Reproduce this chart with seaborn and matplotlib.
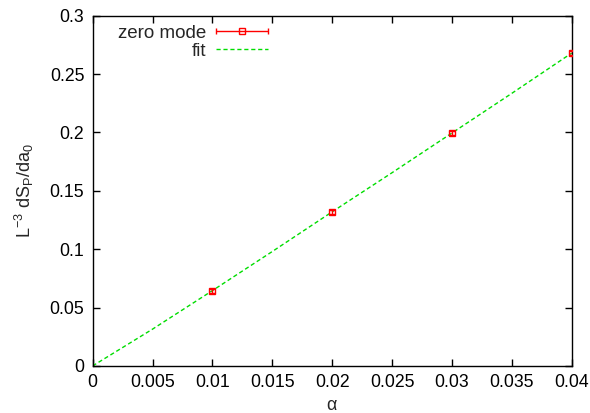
import numpy as np
import pandas as pd
import matplotlib
matplotlib.use('Agg')
import matplotlib.pyplot as plt
import seaborn as sns
from matplotlib.ticker import FormatStrFormatter
from matplotlib.legend_handler import HandlerErrorbar

# data
alpha = [0.01, 0.02, 0.03, 0.04]
dsp = [0.064, 0.132, 0.1995, 0.268]
dsp_err = [0.0015, 0.0015, 0.0015, 0.0015]

fit_alpha = [0.0, 0.005, 0.01, 0.015, 0.02, 0.025, 0.03, 0.035, 0.04]
fit_dsp = [0.0, 0.0315, 0.0645, 0.098, 0.132, 0.1655, 0.1995, 0.2335, 0.268]

sns.set_style('ticks')
plt.rcParams['font.family'] = ['Liberation Sans', 'DejaVu Sans']
plt.rcParams['mathtext.default'] = 'regular'

fig = plt.figure(figsize=(5.9, 4.13), dpi=100)
ax = fig.add_axes([0.157, 0.114, 0.812, 0.848])

fit_df = pd.DataFrame({'alpha': fit_alpha, 'dsp': fit_dsp})

eb = ax.errorbar(alpha, dsp, yerr=dsp_err, fmt='s', color='#ff0000', mfc='none',
                 mec='#ff0000', ms=5, mew=1, elinewidth=1, capsize=2,
                 label='zero mode', zorder=3)
sns.lineplot(data=fit_df, x='alpha', y='dsp', ax=ax, color='#00dd00',
             lw=1, linestyle=(0, (3, 2)), label='fit', zorder=2)

ax.set_xlim(0, 0.04)
ax.set_ylim(0, 0.3)
ax.set_xticks(np.arange(0, 0.0401, 0.005))
ax.set_yticks(np.arange(0, 0.301, 0.05))
ax.xaxis.set_major_formatter(FormatStrFormatter('%g'))
ax.yaxis.set_major_formatter(FormatStrFormatter('%g'))
ax.tick_params(direction='in', length=5, width=1, top=True, right=True,
               labelsize=12.7, pad=6, colors='black')
for s in ax.spines.values():
    s.set_visible(True)
    s.set_linewidth(1)
    s.set_color('black')

ax.set_xlabel(r'$\alpha$', fontsize=13, labelpad=4)
ax.set_ylabel(r'L$^{-3}$ dS$_P$/da$_0$', fontsize=13, labelpad=10)

# gnuplot style key: horizontal bar with caps, zero mode first
eb.has_xerr = True
eb.has_yerr = False
handles, labels = ax.get_legend_handles_labels()
order = [labels.index('zero mode'), labels.index('fit')]
leg = ax.legend([handles[i] for i in order], [labels[i] for i in order],
                loc='upper right', markerfirst=False, frameon=False,
                fontsize=13.5, handlelength=2.8, handletextpad=0.5,
                labelspacing=0.05, borderpad=0, borderaxespad=0,
                bbox_to_anchor=(0.367, 0.975),
                handler_map={type(eb): HandlerErrorbar(xerr_size=1.4, numpoints=1)})

fig.savefig('out.png', dpi=100)
